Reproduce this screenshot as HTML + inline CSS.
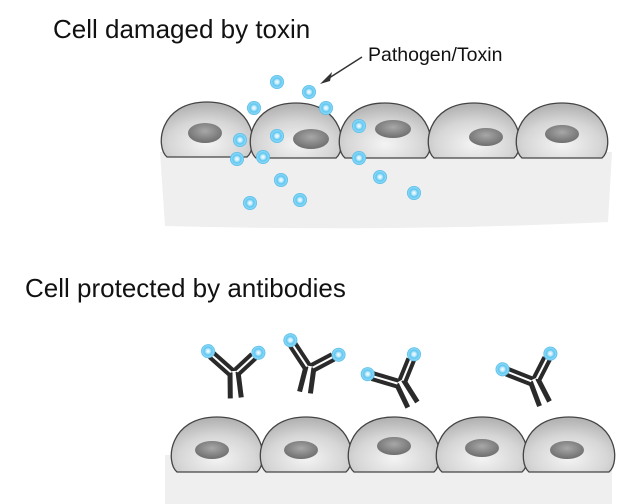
<!DOCTYPE html>
<html><head><meta charset="utf-8"><style>
body{margin:0;background:#fff}
svg{display:block}
text{font-family:"Liberation Sans",sans-serif;fill:#111}
</style></head><body>
<svg width="634" height="504" viewBox="0 0 634 504">
<defs>
<radialGradient id="cellg" cx="0.5" cy="0.75" r="0.7">
<stop offset="0" stop-color="#f4f4f4"/><stop offset="0.6" stop-color="#d6d6d6"/><stop offset="1" stop-color="#b4b4b4"/></radialGradient>
<radialGradient id="nucg" cx="0.5" cy="0.4" r="0.6">
<stop offset="0" stop-color="#a8a8a8"/><stop offset="1" stop-color="#6e6e6e"/></radialGradient>
<radialGradient id="pg" cx="0.5" cy="0.5" r="0.5">
<stop offset="0" stop-color="#ffffff"/><stop offset="0.3" stop-color="#bfe9fb"/><stop offset="0.55" stop-color="#5cc6f0"/><stop offset="0.8" stop-color="#8dd8f6"/><stop offset="1" stop-color="#4ab8e8"/></radialGradient>
<g id="cell"><path d="M-40,0 C-52,-10 -48,-55 0,-55 C48,-55 52,-10 40,0 Z" fill="url(#cellg)" stroke="#444" stroke-width="1.3"/></g>
</defs>
<text x="53" y="38" font-size="26">Cell damaged by toxin</text>
<text x="368" y="61" font-size="19.5">Pathogen/Toxin</text>
<line x1="362" y1="57" x2="326" y2="80" stroke="#333" stroke-width="1.5"/>
<path d="M320,84 L332,72 L330,81 Z" fill="#333"/>
<text x="25" y="297" font-size="26">Cell protected by antibodies</text>

<path d="M160,152 L612,152 L608,222 Q400,232 165,226 Z" fill="#efefef"/>
<g>
<g transform="translate(207,157)"><use href="#cell"/><ellipse cx="-2" cy="-24" rx="17" ry="10" fill="url(#nucg)"/></g>
<g transform="translate(296,158)"><use href="#cell"/><ellipse cx="15" cy="-19" rx="18" ry="10" fill="url(#nucg)"/></g>
<g transform="translate(385,158)"><use href="#cell"/><ellipse cx="8" cy="-29" rx="18" ry="9" fill="url(#nucg)"/></g>
<g transform="translate(474,158)"><use href="#cell"/><ellipse cx="12" cy="-21" rx="17" ry="9" fill="url(#nucg)"/></g>
<g transform="translate(562,158)"><use href="#cell"/><ellipse cx="0" cy="-24" rx="17" ry="9" fill="url(#nucg)"/></g>
</g>
<g fill="url(#pg)">
<circle cx="277" cy="82" r="7"/><circle cx="309" cy="92" r="7"/><circle cx="254" cy="108" r="7"/><circle cx="326" cy="108" r="7"/>
<circle cx="240" cy="140" r="7"/><circle cx="277" cy="136" r="7"/><circle cx="359" cy="126" r="7"/><circle cx="237" cy="159" r="7"/>
<circle cx="263" cy="157" r="7"/><circle cx="359" cy="158" r="7"/><circle cx="281" cy="180" r="7"/><circle cx="380" cy="177" r="7"/>
<circle cx="300" cy="200" r="7"/><circle cx="250" cy="203" r="7"/><circle cx="414" cy="193" r="7"/>
</g>

<path d="M165,455 L612,455 L612,504 L165,504 Z" fill="#efefef"/>
<g>
<g transform="translate(217,472)"><use href="#cell"/><ellipse cx="-5" cy="-22" rx="17" ry="9" fill="url(#nucg)"/></g>
<g transform="translate(306,472)"><use href="#cell"/><ellipse cx="-5" cy="-22" rx="17" ry="9" fill="url(#nucg)"/></g>
<g transform="translate(394,472)"><use href="#cell"/><ellipse cx="0" cy="-26" rx="17" ry="9" fill="url(#nucg)"/></g>
<g transform="translate(482,472)"><use href="#cell"/><ellipse cx="0" cy="-24" rx="17" ry="9" fill="url(#nucg)"/></g>
<g transform="translate(569,472)"><use href="#cell"/><ellipse cx="-2" cy="-22" rx="17" ry="9" fill="url(#nucg)"/></g>
</g>

<defs>
<g id="ab">
<line x1="-4" y1="0" x2="-6" y2="26" stroke="#2a2a2a" stroke-width="5"/>
<line x1="4" y1="0" x2="5" y2="26" stroke="#2a2a2a" stroke-width="5"/>
<line x1="-4" y1="-2" x2="4" y2="-2" stroke="#2a2a2a" stroke-width="2"/>
<line x1="-3" y1="0" x2="-21" y2="-19" stroke="#2a2a2a" stroke-width="10"/>
<line x1="-3" y1="0" x2="-21" y2="-19" stroke="#fff" stroke-width="2"/>
<line x1="3" y1="0" x2="21" y2="-14" stroke="#2a2a2a" stroke-width="10"/>
<line x1="3" y1="0" x2="21" y2="-14" stroke="#fff" stroke-width="2"/>
<circle cx="-24" cy="-23" r="7" fill="url(#pg)"/>
<circle cx="26" cy="-17" r="7" fill="url(#pg)"/>
</g>
</defs>
<g>
<use href="#ab" transform="translate(234,372) rotate(-5)"/>
<use href="#ab" transform="translate(310,367) rotate(10)"/>
<use href="#ab" transform="translate(400,382) rotate(-30)"/>
<use href="#ab" transform="translate(534,380) rotate(-25)"/>
</g>
</svg>
</body></html>
